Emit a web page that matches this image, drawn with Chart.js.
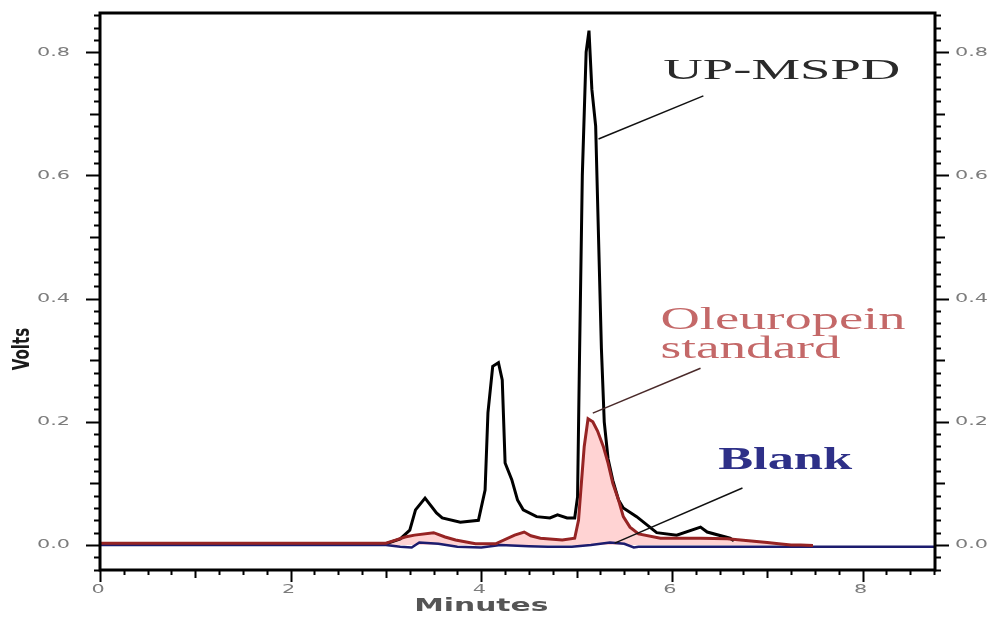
<!DOCTYPE html>
<html>
<head>
<meta charset="utf-8">
<title>Chromatogram</title>
<script src="https://cdn.jsdelivr.net/npm/chart.js@4.4.1/dist/chart.umd.min.js"></script>
<style>
    body { margin: 0; background: #fff; }
    canvas { display: block; }
</style>
</head>
<body>
<canvas id="chart" width="1004" height="619"></canvas>
<script>
// UP-MSPD extract (black trace)
var upTimes = [0, 3.0, 3.15, 3.25, 3.31, 3.41, 3.53, 3.59, 3.78, 3.97, 4.04, 4.07, 4.12, 4.18, 4.22, 4.25, 4.32, 4.38, 4.44, 4.58, 4.72, 4.80, 4.90, 4.98, 5.01, 5.03, 5.06, 5.10, 5.13, 5.16, 5.20, 5.23, 5.26, 5.29, 5.33, 5.38, 5.44, 5.49, 5.63, 5.84, 6.05, 6.30, 6.37, 6.61, 6.65];
var upVolts = [0.002, 0.002, 0.010, 0.024, 0.057, 0.076, 0.052, 0.044, 0.037, 0.040, 0.089, 0.215, 0.290, 0.296, 0.268, 0.133, 0.106, 0.073, 0.057, 0.046, 0.044, 0.049, 0.044, 0.044, 0.078, 0.300, 0.600, 0.800, 0.835, 0.740, 0.680, 0.500, 0.320, 0.200, 0.140, 0.105, 0.073, 0.060, 0.046, 0.020, 0.016, 0.029, 0.021, 0.011, 0.007];

// oleuropein standard (red trace)
var stdTimes = [0, 3.0, 3.1, 3.2, 3.3, 3.5, 3.62, 3.73, 3.94, 4.15, 4.35, 4.45, 4.52, 4.62, 4.85, 4.98, 5.02, 5.05, 5.08, 5.12, 5.17, 5.22, 5.28, 5.33, 5.38, 5.44, 5.49, 5.56, 5.65, 5.88, 6.30, 6.58, 7.00, 7.12, 7.25, 7.35, 7.48];
var stdVolts = [0.003, 0.003, 0.008, 0.013, 0.016, 0.020, 0.013, 0.008, 0.002, 0.002, 0.016, 0.021, 0.015, 0.011, 0.008, 0.011, 0.040, 0.100, 0.160, 0.205, 0.200, 0.185, 0.160, 0.133, 0.100, 0.073, 0.046, 0.029, 0.018, 0.011, 0.011, 0.010, 0.004, 0.002, 0.000, 0.000, -0.001];

// blank (blue trace)
var blankTimes = [0, 3.0, 3.15, 3.27, 3.35, 3.55, 3.75, 4.0, 4.2, 4.5, 4.7, 4.95, 5.15, 5.35, 5.5, 5.6, 5.65, 8.76];
var blankVolts = [0.000, 0.000, -0.003, -0.004, 0.004, 0.002, -0.003, -0.004, 0.000, -0.002, -0.003, -0.003, 0.000, 0.004, 0.002, -0.004, -0.003, -0.003];

var xTicks = [0, 2, 4, 6, 8];
var yTicks = [0, 0.2, 0.4, 0.6, 0.8];
var xLabels = ['0', '2', '4', '6', '8'];
var yLabels = ['0.0', '0.2', '0.4', '0.6', '0.8'];

function points(ts, vs) {
    return ts.map(function(t, i) { return { x: t, y: vs[i] }; });
}

// the scanned figure is stretched sideways, so text is drawn wide
function wideText(ctx, text, x, y, sx, align) {
    var w = ctx.measureText(text).width * sx;
    var left = align === 'right' ? x - w : (align === 'center' ? x - w / 2 : x);
    ctx.save();
    ctx.textAlign = 'left';
    ctx.textBaseline = 'middle';
    ctx.translate(left, y);
    ctx.scale(sx, 1);
    ctx.fillText(text, 0, 0);
    ctx.restore();
}

function fitText(ctx, text, x, y, width) {
    wideText(ctx, text, x, y, width / ctx.measureText(text).width, 'left');
}

var framePlugin = {
    id: 'frame',
    afterDatasetsDraw: function(chart) {
        var ctx = chart.ctx, a = chart.chartArea;
        var xs = chart.scales.x, ys = chart.scales.y;
        ctx.save();
        ctx.strokeStyle = '#000';
        ctx.lineWidth = 3;
        ctx.strokeRect(a.left, a.top, a.right - a.left, a.bottom - a.top);

        ctx.lineWidth = 2;
        ctx.beginPath();
        for (var i = -2; i <= 43; i++) {
            var py = Math.round(ys.getPixelForValue(i * 0.02)) + 0.5;
            var len = i % 10 === 0 ? 14 : (i % 5 === 0 ? 10 : 6);
            ctx.moveTo(a.left, py); ctx.lineTo(a.left - len, py);
            ctx.moveTo(a.right, py); ctx.lineTo(a.right + len, py);
        }
        for (var j = 0; j <= 35; j++) {
            var px = Math.round(xs.getPixelForValue(j * 0.25)) + 0.5;
            var len2 = j % 8 === 0 ? 12 : (j % 4 === 0 ? 8 : 5);
            ctx.moveTo(px, a.bottom); ctx.lineTo(px, a.bottom + len2);
        }
        ctx.stroke();

        // tick labels
        ctx.font = '13px "DejaVu Sans"';
        ctx.fillStyle = '#7c7c7c';
        yTicks.forEach(function(v, k) {
            var py = ys.getPixelForValue(v);
            wideText(ctx, yLabels[k], a.left - 30, py, 1.6, 'right');
            wideText(ctx, yLabels[k], a.right + 20, py, 1.6, 'left');
        });
        xTicks.forEach(function(v, k) {
            wideText(ctx, xLabels[k], xs.getPixelForValue(v) - 2, a.bottom + 20, 1.6, 'center');
        });

        // axis titles
        ctx.font = 'bold 17px "DejaVu Sans"';
        ctx.fillStyle = '#555';
        wideText(ctx, 'Minutes', xs.getPixelForValue(4.0), a.bottom + 37, 1.75, 'center');
        ctx.save();
        ctx.translate(23, ys.getPixelForValue(0.318));
        ctx.rotate(-Math.PI / 2);
        ctx.scale(1, 1.5);
        ctx.font = 'bold 15px "DejaVu Sans"';
        ctx.fillStyle = '#1a1a1a';
        ctx.textAlign = 'center';
        ctx.textBaseline = 'middle';
        ctx.fillText('Volts', 0, 0);
        ctx.restore();

        // trace labels with leader lines
        function leader(x1, y1, x2, y2, color) {
            ctx.beginPath();
            ctx.strokeStyle = color;
            ctx.lineWidth = 1.5;
            ctx.moveTo(xs.getPixelForValue(x1), ys.getPixelForValue(y1));
            ctx.lineTo(xs.getPixelForValue(x2), ys.getPixelForValue(y2));
            ctx.stroke();
        }
        leader(5.23, 0.659, 6.33, 0.729, '#111');
        leader(5.17, 0.214, 6.30, 0.287, '#4a2a2a');
        leader(5.40, 0.003, 6.74, 0.0925, '#111');

        ctx.font = '29px "Liberation Serif"';
        ctx.fillStyle = '#2a2a2a';
        fitText(ctx, 'UP-MSPD', xs.getPixelForValue(5.91), ys.getPixelForValue(0.769), 237);
        ctx.font = '32px "Liberation Serif"';
        ctx.fillStyle = '#c46868';
        fitText(ctx, 'Oleuropein', xs.getPixelForValue(5.88), ys.getPixelForValue(0.365), 245);
        fitText(ctx, 'standard', xs.getPixelForValue(5.88), ys.getPixelForValue(0.317), 180);
        ctx.font = 'bold 32px "Liberation Serif"';
        ctx.fillStyle = '#2e3088';
        fitText(ctx, 'Blank', xs.getPixelForValue(6.485), ys.getPixelForValue(0.136), 134);
        ctx.restore();
    }
};

var ctx = document.getElementById('chart').getContext('2d');
var chart = new Chart(ctx, {
    type: 'line',
    data: {
        datasets: [{
            label: 'Oleuropein standard',
            data: points(stdTimes, stdVolts),
            borderColor: '#962424',
            backgroundColor: 'rgba(255, 196, 196, 0.75)',
            borderWidth: 3,
            pointRadius: 0,
            fill: 'origin'
        }, {
            label: 'Blank',
            data: points(blankTimes, blankVolts),
            borderColor: '#1c1c6e',
            borderWidth: 2.5,
            pointRadius: 0,
            fill: false
        }, {
            label: 'UP-MSPD',
            data: points(upTimes, upVolts),
            borderColor: '#000',
            borderWidth: 3,
            pointRadius: 0,
            fill: false
        }]
    },
    options: {
        responsive: false,
        animation: false,
        layout: {
            padding: { left: 100, right: 69, top: 13, bottom: 49 }
        },
        elements: { line: { tension: 0 } },
        scales: {
            x: { type: 'linear', min: 0, max: 8.76, display: false },
            y: { min: -0.0406, max: 0.8636, display: false }
        },
        plugins: {
            legend: { display: false },
            tooltip: { enabled: false },
            filler: { drawTime: 'beforeDatasetsDraw' }
        }
    },
    plugins: [framePlugin]
});
</script>
</body>
</html>
